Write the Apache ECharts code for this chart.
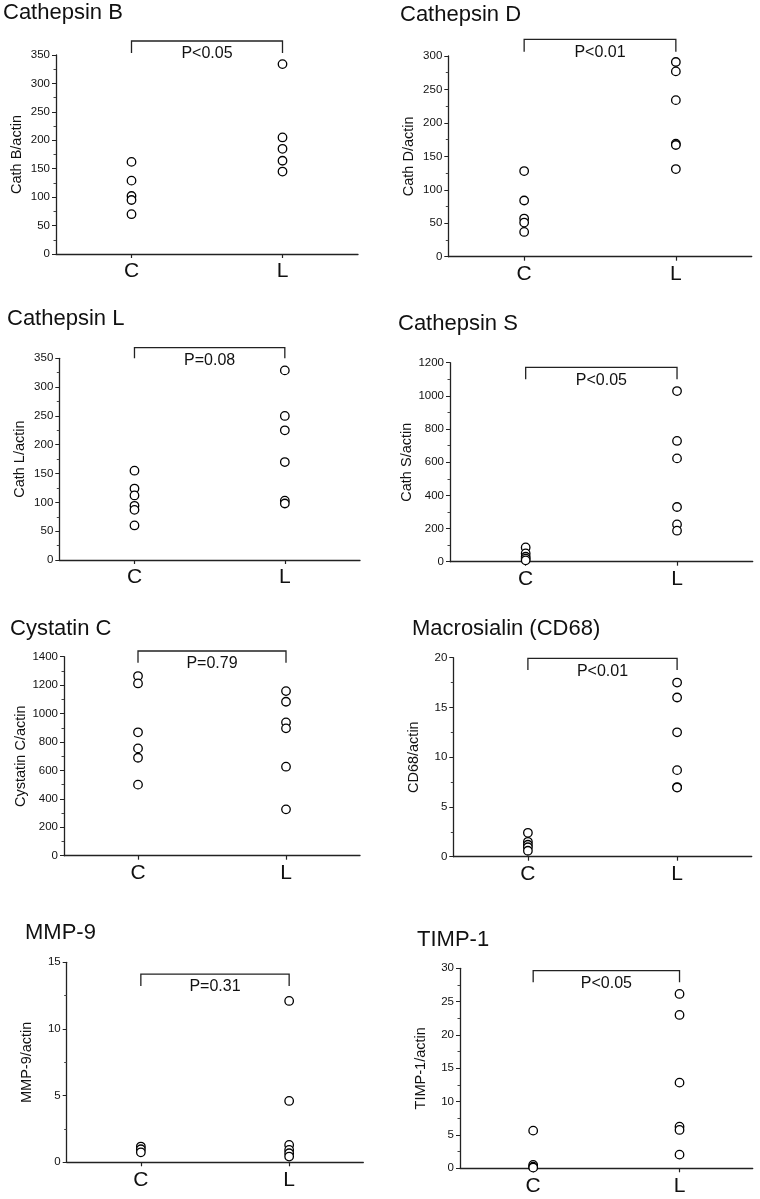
<!DOCTYPE html>
<html>
<head>
<meta charset="utf-8">
<script src="https://cdn.jsdelivr.net/npm/echarts@6/dist/echarts.min.js"></script>
<style>
html,body{margin:0;padding:0;background:#fff;}
#chart{width:760px;height:1199px;}
</style>
</head>
<body>
<div id="chart"></div>
<script>
// ---- data ----
const groups = ['C', 'L'];
const titles = ['Cathepsin B', 'Cathepsin D', 'Cathepsin L', 'Cathepsin S', 'Cystatin C', 'Macrosialin (CD68)', 'MMP-9', 'TIMP-1'];
const yNames = ['Cath B/actin', 'Cath D/actin', 'Cath L/actin', 'Cath S/actin', 'Cystatin C/actin', 'CD68/actin', 'MMP-9/actin', 'TIMP-1/actin'];
const pLabels = ['P<0.05', 'P<0.01', 'P=0.08', 'P<0.05', 'P=0.79', 'P<0.01', 'P=0.31', 'P<0.05'];
const yMax = [350, 300, 350, 1200, 1400, 20, 15, 30];
const yStep = [50, 50, 50, 200, 200, 5, 5, 5];

const cathB_C = [162, 129, 102, 95, 70];
const cathB_L = [334, 205, 185, 164, 145];
const cathD_C = [128, 84, 57, 51, 37];
const cathD_L = [291, 277, 234, 169, 167, 131];
const cathL_C = [155, 124, 112, 94, 87, 60];
const cathL_L = [329, 250, 225, 170, 103, 98];
const cathS_C = [86, 50, 30, 18, 8];
const cathS_L = [1029, 728, 623, 330, 225, 187];
const cystC_C = [1264, 1212, 868, 755, 689, 500];
const cystC_L = [1158, 1083, 938, 896, 626, 326];
const cd68_C = [2.4, 1.5, 1.2, 0.95, 0.6];
const cd68_L = [17.5, 16.0, 12.5, 8.7, 7.0, 6.95];
const mmp9_C = [1.18, 0.98, 0.75];
const mmp9_L = [12.1, 4.6, 1.3, 0.93, 0.68, 0.43];
const timp1_C = [5.65, 0.5, 0.25, 0.1];
const timp1_L = [26.15, 23, 12.85, 6.25, 5.75, 2.05];

// bracket levels (axis units): top line, end of drops
const bracketTop = [374.6, 325, 368.4, 1172, 1440, 19.94, 14.12, 29.64];
const bracketDrop = [353.5, 306.4, 350, 1100, 1358, 18.76, 13.22, 27.9];

const panelC = [cathB_C, cathD_C, cathL_C, cathS_C, cystC_C, cd68_C, mmp9_C, timp1_C];
const panelL = [cathB_L, cathD_L, cathL_L, cathS_L, cystC_L, cd68_L, mmp9_L, timp1_L];

// ---- layout (pixels) ----
const grids = [
  {left: 56, top: 55, width: 302, height: 199},
  {left: 448.3, top: 56, width: 303.4, height: 200.7},
  {left: 59.3, top: 358.3, width: 300.7, height: 201.7},
  {left: 450, top: 362.7, width: 302.7, height: 199},
  {left: 64, top: 656.7, width: 296, height: 199},
  {left: 453.3, top: 657.7, width: 298.4, height: 199},
  {left: 66.7, top: 962.3, width: 296.6, height: 200},
  {left: 460, top: 968.3, width: 292.7, height: 200}
];
const titlePos = [
  {left: 3, top: 2}, {left: 400, top: 4},
  {left: 7, top: 307.5}, {left: 398, top: 312.5},
  {left: 10, top: 617.5}, {left: 412, top: 617.5},
  {left: 25, top: 922}, {left: 417, top: 929}
];

const FONT = 'Liberation Sans, Arial, Helvetica, sans-serif';
const INK = '#111';

const chart = echarts.init(document.getElementById('chart'), null, {renderer: 'canvas'});

const option = {
  backgroundColor: '#fff',
  animation: false,
  textStyle: {fontFamily: FONT, color: INK},
  title: titles.map((t, i) => ({
    text: t, left: titlePos[i].left, top: titlePos[i].top, padding: 0,
    textStyle: {fontFamily: FONT, fontSize: 22, fontWeight: 'normal', color: INK}
  })),
  grid: grids.map(g => Object.assign({containLabel: false}, g)),
  xAxis: grids.map((g, i) => ({
    type: 'category', gridIndex: i, data: groups, boundaryGap: true,
    axisLine: {lineStyle: {color: '#222', width: 1.3}},
    axisTick: {show: true, alignWithLabel: true, length: 4, lineStyle: {color: '#222', width: 1.2}},
    axisLabel: {fontFamily: FONT, fontSize: 21, color: INK, margin: 7},
    splitLine: {show: false}
  })),
  yAxis: grids.map((g, i) => ({
    type: 'value', gridIndex: i, min: 0, max: yMax[i], interval: yStep[i],
    name: yNames[i], nameLocation: 'middle', nameGap: 32, nameRotate: 90,
    nameTextStyle: {fontFamily: FONT, fontSize: 14.5, color: INK},
    axisLine: {show: true, lineStyle: {color: '#222', width: 1.3}},
    axisTick: {show: true, length: 4, lineStyle: {color: '#222', width: 1}},
    minorTick: {show: true, splitNumber: 2, length: 2.5, lineStyle: {color: '#444', width: 1}},
    axisLabel: {fontFamily: FONT, fontSize: 11.5, color: INK, margin: 6, formatter: v => String(v)},
    splitLine: {show: false}
  })),
  series: []
};

grids.forEach((g, i) => {
  const pts = panelC[i].map(v => [0, v]).concat(panelL[i].map(v => [1, v]));
  option.series.push({
    type: 'scatter', xAxisIndex: i, yAxisIndex: i, data: pts,
    symbol: 'circle', symbolSize: 8.5,
    itemStyle: {color: '#fff', borderColor: '#000', borderWidth: 1.3, opacity: 1},
    silent: true, z: 3
  });
  option.series.push({
    type: 'custom', xAxisIndex: i, yAxisIndex: i, clip: false, silent: true, z: 2,
    data: [[0, bracketTop[i], bracketDrop[i]]],
    renderItem: (params, api) => {
      const top = api.value(1), drop = api.value(2);
      const a = api.coord([0, top]);
      const b = api.coord([1, top]);
      const ad = api.coord([0, drop]);
      return {
        type: 'group',
        children: [
          {type: 'polyline',
           shape: {points: [[a[0], ad[1]], [a[0], a[1]], [b[0], a[1]], [b[0], ad[1]]]},
           style: {stroke: '#222', lineWidth: 1.3, fill: null}},
          {type: 'text', x: (a[0] + b[0]) / 2, y: a[1] + 13,
           style: {text: pLabels[i], fontFamily: FONT, fontSize: 16, fill: INK,
                   align: 'center', verticalAlign: 'middle'}}
        ]
      };
    }
  });
});

chart.setOption(option);
</script>
</body>
</html>
